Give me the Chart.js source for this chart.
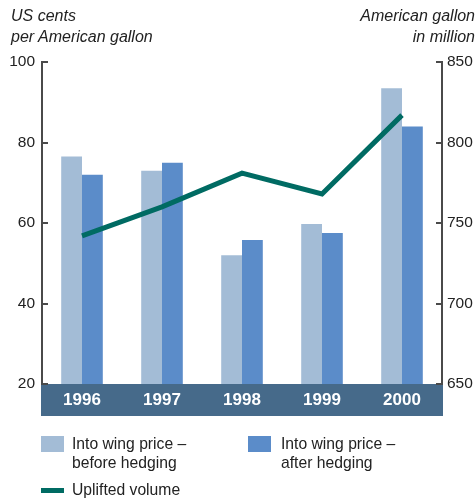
<!DOCTYPE html>
<html>
<head>
<meta charset="utf-8">
<script src="https://cdn.jsdelivr.net/npm/chart.js@4"></script>
<style>
  html, body { margin: 0; padding: 0; background: #fff; }
  body { width: 476px; height: 502px; position: relative; overflow: hidden;
         font-family: "Liberation Sans", Arial, sans-serif; color: #222; }
  #wrap { position: absolute; left: 0; top: 0; width: 476px; height: 502px; }
  .t { position: absolute; font-size: 16px; font-style: italic; line-height: 21px; white-space: nowrap; }
  .lg { position: absolute; font-size: 15.7px; line-height: 19px; white-space: nowrap; }
  .sw { position: absolute; width: 23px; height: 16px; }
</style>
</head>
<body>
<div id="wrap"><canvas id="fuelChart" width="476" height="502"></canvas></div>
<div class="t" style="left:11px; top:5px;">US cents<br>per American gallon</div>
<div class="t" style="right:1px; top:5px; text-align:right;">American gallon<br>in million</div>

<div class="sw" style="left:41px; top:436px; background:#A3BCD6;"></div>
<div class="lg" style="left:72px; top:434px;">Into wing price –<br>before hedging</div>
<div class="sw" style="left:248px; top:436px; background:#5B8CC9;"></div>
<div class="lg" style="left:281px; top:434px;">Into wing price –<br>after hedging</div>
<div class="sw" style="left:41px; top:488px; height:5px; background:#006B63;"></div>
<div class="lg" style="left:72px; top:480px;">Uplifted volume</div>

<script>
// ============================================
// DATA
// ============================================
const years = ['1996', '1997', '1998', '1999', '2000'];
const priceBefore = [76.5, 73, 52, 59.75, 93.5];   // US cents per gallon
const priceAfter = [72, 75, 55.75, 57.5, 84];
const upliftedVolume = [742, 760, 781, 768, 817];  // million gallons
const leftTicks = [20, 40, 60, 80, 100];
const rightTicks = [650, 700, 750, 800, 850];

// band behind year labels + inward tick marks
const decorPlugin = {
    id: 'decor',
    beforeDraw(chart) {
        const { ctx, chartArea } = chart;
        ctx.save();
        ctx.fillStyle = '#466A8A';
        ctx.fillRect(chartArea.left - 1, chartArea.bottom, chartArea.right - chartArea.left + 2, 32);
        ctx.restore();
    },
    afterDraw(chart) {
        const { ctx, chartArea, scales } = chart;
        ctx.save();
        ctx.strokeStyle = '#4a4a4a';
        ctx.lineWidth = 2;
        scales.y.ticks.forEach(t => {
            const y = Math.round(scales.y.getPixelForValue(t.value));
            ctx.beginPath();
            ctx.moveTo(chartArea.left, y);
            ctx.lineTo(chartArea.left + 6, y);
            ctx.stroke();
        });
        scales.y2.ticks.forEach(t => {
            const y = Math.round(scales.y2.getPixelForValue(t.value));
            ctx.beginPath();
            ctx.moveTo(chartArea.right, y);
            ctx.lineTo(chartArea.right - 6, y);
            ctx.stroke();
        });
        ctx.restore();
    }
};

const ctx = document.getElementById('fuelChart');
new Chart(ctx, {
    type: 'bar',
    data: {
        labels: years,
        datasets: [
            {
                type: 'line',
                label: 'Uplifted volume',
                data: upliftedVolume,
                yAxisID: 'y2',
                borderColor: '#006B63',
                borderWidth: 5,
                pointRadius: 0,
                tension: 0,
                fill: false,
                order: 0
            },
            {
                label: 'Into wing price – before hedging',
                data: priceBefore,
                yAxisID: 'y',
                backgroundColor: '#A3BCD6',
                categoryPercentage: 0.52,
                barPercentage: 1,
                order: 1
            },
            {
                label: 'Into wing price – after hedging',
                data: priceAfter,
                yAxisID: 'y',
                backgroundColor: '#5B8CC9',
                categoryPercentage: 0.52,
                barPercentage: 1,
                order: 1
            }
        ]
    },
    options: {
        responsive: false,
        animation: false,
        layout: { padding: { top: 62, left: 0, right: 0, bottom: 0 } },
        plugins: {
            legend: { display: false },
            tooltip: { enabled: false }
        },
        scales: {
            x: {
                grid: { display: false, drawTicks: false },
                border: { display: false },
                ticks: {
                    color: '#ffffff',
                    padding: 6,
                    font: { family: 'Liberation Sans', size: 17, weight: 'bold' }
                },
                afterFit(scale) { scale.height = 118; }
            },
            y: {
                position: 'left',
                min: 20,
                max: 100,
                afterBuildTicks(scale) { scale.ticks = leftTicks.map(v => ({ value: v })); },
                grid: { display: false, drawTicks: false },
                border: { display: true, color: '#4a4a4a', width: 2 },
                ticks: {
                    color: '#222',
                    padding: 7,
                    font: { family: 'Liberation Sans', size: 15.5 }
                },
                afterFit(scale) { scale.width = 42; }
            },
            y2: {
                position: 'right',
                min: 650,
                max: 850,
                afterBuildTicks(scale) { scale.ticks = rightTicks.map(v => ({ value: v })); },
                grid: { display: false, drawTicks: false },
                border: { display: true, color: '#4a4a4a', width: 2 },
                ticks: {
                    color: '#222',
                    padding: 5,
                    font: { family: 'Liberation Sans', size: 15.5 }
                },
                afterFit(scale) { scale.width = 34; }
            }
        }
    },
    plugins: [decorPlugin]
});
</script>
</body>
</html>
